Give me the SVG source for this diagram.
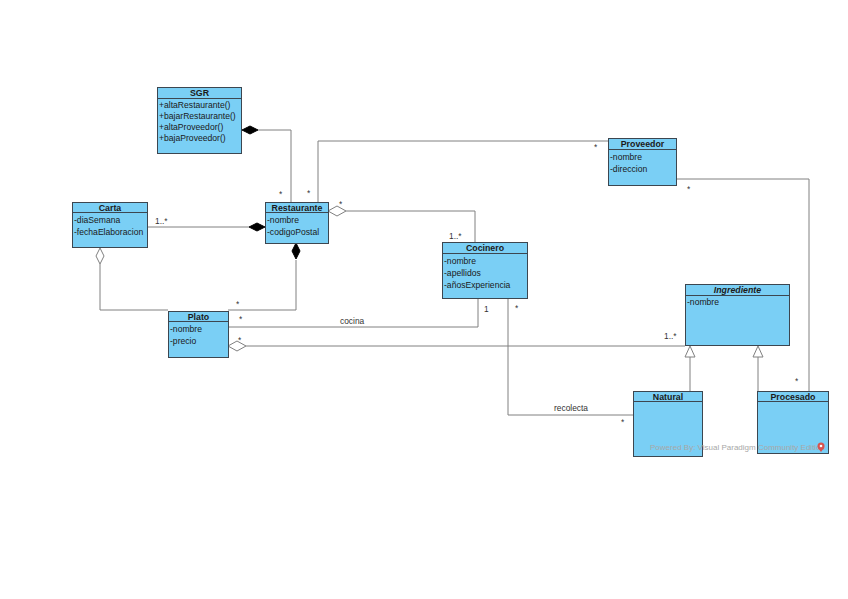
<svg xmlns="http://www.w3.org/2000/svg" width="848" height="599" viewBox="0 0 848 599">
<style>
.box{fill:#7acff5;stroke:#3c4650;stroke-width:1}
.hd{fill:none;stroke:#3c4650;stroke-width:1}
.t{font-family:"Liberation Sans",Arial,sans-serif;font-size:8.6px;fill:#1a1a1a}
.b{font-family:"Liberation Sans",Arial,sans-serif;font-size:8.8px;font-weight:bold;fill:#1a1a1a;text-anchor:middle}
.l{font-family:"Liberation Sans",Arial,sans-serif;font-size:8.4px;fill:#333}
.c{fill:none;stroke:#808080;stroke-width:1}
.fd{fill:#000;stroke:#000;stroke-width:1}
.od{fill:#fff;stroke:#808080;stroke-width:1}
</style>
<rect width="848" height="599" fill="#fff"/>
<g id="connectors">
<!-- SGR - Restaurante -->
<polyline class="c" points="258,130 291,130 291,202"/>
<polygon class="fd" points="242,130 250,126 258,130 250,134"/>
<text class="l" x="279" y="197">*</text>
<!-- Carta - Restaurante -->
<line class="c" x1="147" y1="227" x2="249" y2="227"/>
<polygon class="fd" points="249,227 257,223 265,227 257,231"/>
<text class="l" x="155" y="224">1..*</text>
<!-- Restaurante - Plato -->
<polyline class="c" points="296,260 296,310 228,310"/>
<polygon class="fd" points="296,243 300,251 296,259 292,251"/>
<text class="l" x="236" y="307">*</text>
<!-- Carta - Plato -->
<polyline class="c" points="100,264 100,310 168,310"/>
<polygon class="od" points="100,248 104,256 100,264 96,256"/>
<!-- Restaurante - Proveedor -->
<polyline class="c" points="318,202 318,141 608,141"/>
<text class="l" x="307" y="196">*</text>
<text class="l" x="594" y="150">*</text>
<!-- Restaurante - Cocinero -->
<polyline class="c" points="346,211 475,211 475,242"/>
<polygon class="od" points="328,211 337,206 346,211 337,216"/>
<text class="l" x="339" y="207">*</text>
<text class="l" x="449" y="239">1..*</text>
<!-- Plato - Cocinero (cocina) -->
<polyline class="c" points="228,327 478,327 478,298"/>
<text class="l" x="340" y="324">cocina</text>
<text class="l" x="239" y="322">*</text>
<text class="l" x="484" y="312">1</text>
<!-- Plato - Ingrediente -->
<line class="c" x1="246" y1="346" x2="685" y2="346"/>
<polygon class="od" points="228,346 237,341 246,346 237,351"/>
<text class="l" x="238" y="343">*</text>
<text class="l" x="664" y="339">1..*</text>
<!-- Cocinero - Natural (recolecta) -->
<polyline class="c" points="508,298 508,415 633,415"/>
<text class="l" x="554" y="411">recolecta</text>
<text class="l" x="515" y="311">*</text>
<text class="l" x="621" y="425">*</text>
<!-- Proveedor - Procesado -->
<polyline class="c" points="676,179 809,179 809,391"/>
<text class="l" x="687" y="192">*</text>
<text class="l" x="795" y="384">*</text>
<!-- Generalizations -->
<line class="c" x1="690" y1="357" x2="690" y2="391"/>
<polygon class="od" points="690,346 695,357 685,357"/>
<line class="c" x1="758" y1="357" x2="758" y2="391"/>
<polygon class="od" points="758,346 763,357 753,357"/>
</g>
<g id="SGR">
<rect class="box" x="157.5" y="87.5" width="84" height="66"/>
<line class="hd" x1="157.5" y1="98.5" x2="241.5" y2="98.5"/>
<text class="b" x="199.5" y="96">SGR</text>
<text class="t" x="159" y="108">+altaRestaurante()</text>
<text class="t" x="159" y="119">+bajarRestaurante()</text>
<text class="t" x="159" y="130">+altaProveedor()</text>
<text class="t" x="159" y="141">+bajaProveedor()</text>
</g>
<g id="Carta">
<rect class="box" x="72.5" y="202.5" width="75" height="45"/>
<line class="hd" x1="72.5" y1="212.5" x2="147.5" y2="212.5"/>
<text class="b" x="110" y="210.5">Carta</text>
<text class="t" x="74" y="223">-diaSemana</text>
<text class="t" x="74" y="235">-fechaElaboracion</text>
</g>
<g id="Restaurante">
<rect class="box" x="265.5" y="202.5" width="63" height="41"/>
<line class="hd" x1="265.5" y1="212.5" x2="328.5" y2="212.5"/>
<text class="b" x="297" y="210.5">Restaurante</text>
<text class="t" x="267" y="223">-nombre</text>
<text class="t" x="267" y="235">-codigoPostal</text>
</g>
<g id="Proveedor">
<rect class="box" x="608.5" y="138.5" width="68" height="47"/>
<line class="hd" x1="608.5" y1="149.5" x2="676.5" y2="149.5"/>
<text class="b" x="642.5" y="147">Proveedor</text>
<text class="t" x="610" y="160">-nombre</text>
<text class="t" x="610" y="172">-direccion</text>
</g>
<g id="Cocinero">
<rect class="box" x="442.5" y="242.5" width="85" height="56"/>
<line class="hd" x1="442.5" y1="253.5" x2="527.5" y2="253.5"/>
<text class="b" x="485" y="251">Cocinero</text>
<text class="t" x="444" y="264">-nombre</text>
<text class="t" x="444" y="276">-apellidos</text>
<text class="t" x="444" y="288">-añosExperiencia</text>
</g>
<g id="Plato">
<rect class="box" x="168.5" y="311.5" width="60" height="46"/>
<line class="hd" x1="168.5" y1="321.5" x2="228.5" y2="321.5"/>
<text class="b" x="198.5" y="319.5">Plato</text>
<text class="t" x="170" y="332">-nombre</text>
<text class="t" x="170" y="344">-precio</text>
</g>
<g id="Ingrediente">
<rect class="box" x="685.5" y="284.5" width="104" height="61"/>
<line class="hd" x1="685.5" y1="295.5" x2="789.5" y2="295.5"/>
<text class="b" x="737.5" y="293" font-style="italic">Ingrediente</text>
<text class="t" x="687" y="305">-nombre</text>
</g>
<g id="Natural">
<rect class="box" x="633.5" y="391.5" width="69" height="65"/>
<line class="hd" x1="633.5" y1="401.5" x2="702.5" y2="401.5"/>
<text class="b" x="668" y="399.5">Natural</text>
</g>
<g id="Procesado">
<rect class="box" x="757.5" y="391.5" width="71" height="62"/>
<line class="hd" x1="757.5" y1="401.5" x2="828.5" y2="401.5"/>
<text class="b" x="793" y="399.5">Procesado</text>
</g>
<g id="watermark">
<text x="650" y="450" font-family="Liberation Sans,Arial,sans-serif" font-size="8px" fill="#a8a8a8">Powered By: Visual Paradigm Community Edition</text>
<circle cx="821" cy="446" r="3.5" fill="#d9534f"/>
<circle cx="821" cy="446" r="1.3" fill="#fff"/>
<polygon points="818,448 824,448 821,452" fill="#d9534f"/>
</g>
</svg>
